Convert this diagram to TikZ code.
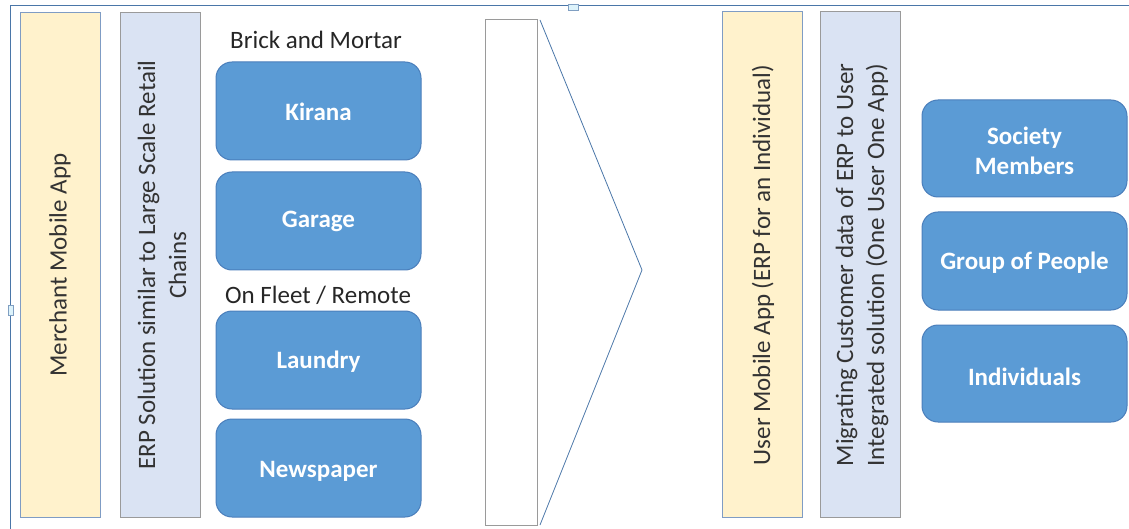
\documentclass[tikz,border=0pt]{standalone}
\usepackage{fontspec}
\setmainfont{Carlito}
\definecolor{ylw}{HTML}{FFF2CC}
\definecolor{ylwb}{HTML}{7F9CC4}
\definecolor{lbl}{HTML}{DAE3F3}
\definecolor{lblb}{HTML}{9A9A9A}
\definecolor{bfill}{HTML}{5B9BD5}
\definecolor{bdraw}{HTML}{4A7EBB}
\definecolor{frame}{HTML}{4A76A8}
\definecolor{handle}{HTML}{DDF3FB}
\begin{document}
\begin{tikzpicture}[x=1pt,y=-1pt,
  ybar/.style={draw=ylwb,fill=ylw,line width=1pt},
  bbar/.style={draw=lblb,fill=lbl,line width=1pt},
  vtext/.style={rotate=90,font=\fontsize{25}{31}\selectfont,text=black!80,align=center},
  rbox/.style={draw=bdraw,fill=bfill,rounded corners=16pt,line width=1pt},
  btext/.style={text=white,font=\bfseries\fontsize{25}{30}\selectfont,align=center},
  htext/.style={font=\fontsize{25}{30}\selectfont,text=black!85},
  hdl/.style={draw=frame!70,fill=handle,line width=0.6pt}]
\useasboundingbox (0,0) rectangle (1129,529);
% frame
\draw[frame,line width=1pt] (10,529) -- (10,6) -- (1129,6);
\draw[hdl] (568,4) rectangle (578,10);
\draw[hdl] (8,305) rectangle (13,315);
% left side
\draw[ybar] (20,13) rectangle (100,517);
\node[vtext] (m) at (60,265) {Merchant Mobile App};
\draw[bbar] (120,13) rectangle (200,517);
\node[vtext] (erp) at (162,265) {ERP Solution similar to Large Scale Retail\\Chains};
\node[htext] (bm) at (316,40) {Brick and Mortar};
\draw[rbox] (216,62) rectangle (421,160); \node[btext] (k) at (318.5,112) {Kirana};
\draw[rbox] (216,172) rectangle (421,270); \node[btext] (g) at (318.5,221) {Garage};
\node[htext] (fr) at (318,295) {On Fleet / Remote};
\draw[rbox] (216,311) rectangle (421,409); \node[btext] (l) at (318.5,362) {Laundry};
\draw[rbox] (216,419) rectangle (421,517); \node[btext] (n) at (318.5,471) {Newspaper};
% middle
\draw[lblb,line width=1pt,fill=white] (485,20) rectangle (537,525);
\draw[frame,line width=0.8pt] (540,20) -- (642,270) -- (540,525);
% right side
\draw[ybar] (722,12) rectangle (802,517);
\node[vtext] (u) at (763,265) {User Mobile App (ERP for an Individual)};
\draw[bbar] (820,12) rectangle (900,517);
\node[vtext] (mig) at (862,265) {Migrating Customer data of ERP to User\\Integrated solution (One User One App)};
\draw[rbox] (922,100) rectangle (1127,197); \node[btext] (s) at (1024.5,151) {Society\\Members};
\draw[rbox] (922,212) rectangle (1127,310); \node[btext] (gp) at (1024.5,263) {Group of People};
\draw[rbox] (922,325) rectangle (1127,422); \node[btext] (i) at (1024.5,377) {Individuals};
\end{tikzpicture}
\end{document}
